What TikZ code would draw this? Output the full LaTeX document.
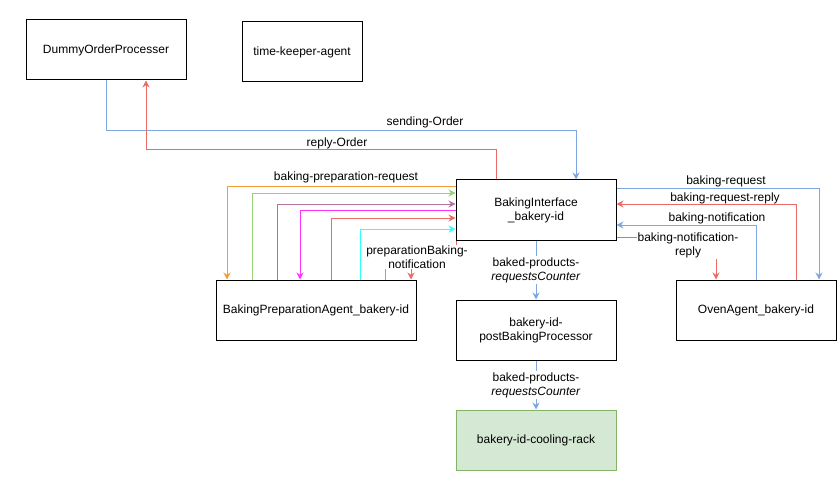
\documentclass[tikz,border=0pt]{standalone}
\usepackage{fontspec}
\setmainfont{Liberation Sans}
\usetikzlibrary{arrows.meta}

\definecolor{lineblue}{HTML}{7EA6E0}
\definecolor{linered}{HTML}{EA6B66}
\definecolor{lineorange}{HTML}{F19C38}
\definecolor{linegreen}{HTML}{97D077}
\definecolor{linepurple}{HTML}{B5739D}
\definecolor{linemagenta}{HTML}{FF33FF}
\definecolor{linecyan}{HTML}{33FFFF}
\definecolor{rackfill}{HTML}{D5E8D4}
\definecolor{rackdraw}{HTML}{82B366}

\begin{document}
\begin{tikzpicture}[x=1pt,y=-1pt,
  box/.style={draw=black, line width=1pt, minimum width=160pt, minimum height=60pt,
    inner sep=0pt, align=center, font=\fontsize{12}{14}\selectfont},
  lbl/.style={align=center, inner sep=1pt, text=black, font=\fontsize{12}{14}\selectfont},
  conn/.style={line width=1pt, -{Stealth[length=7pt,width=7pt]}},
  stub/.style={line width=1pt}]
\useasboundingbox (0,0) rectangle (837,481);

%agents
\node[box] (dop) at (106,50) {DummyOrderProcesser};
\node[box, minimum width=120pt] (tka) at (302,52) {time-keeper-agent};
\node[box] (bi) at (536,210) {BakingInterface\\\_bakery-id};
\node[box, minimum width=200pt] (bpa) at (316,310) {BakingPreparationAgent\_bakery-id};
\node[box] (oa) at (756,310) {OvenAgent\_bakery-id};
\node[box] (pbp) at (536,330) {bakery-id-\\postBakingProcessor};
\node[box, draw=rackdraw, fill=rackfill] (rack) at (536,440) {bakery-id-cooling-rack};

%orders
\draw[conn, lineblue] (dop.south) -- ++(0,50) -| ([xshift=40pt]bi.north);
\draw[conn, linered] ([xshift=-40pt]bi.north) -- ++(0,-30) -| ([xshift=40pt]dop.south);
\node[lbl] (lblsend) at (425,122) {sending-Order};
\node[lbl] (lblreply) at (337,143) {reply-Order};

%preparation agent
\draw[conn, lineorange] ([yshift=24pt]bi.west) -| ([xshift=-89pt]bpa.north);
\draw[conn, linegreen] ([xshift=-64pt]bpa.north) |- ([yshift=17pt]bi.west);
\draw[conn, linepurple] ([xshift=-39pt]bpa.north) |- ([yshift=6pt]bi.west);
\draw[conn, linemagenta] (bi.west) -| ([xshift=-16pt]bpa.north);
\draw[conn, linered] ([xshift=15pt]bpa.north) |- ([yshift=-8pt]bi.west);
\draw[conn, linecyan] ([xshift=44pt]bpa.north) |- ([yshift=-19pt]bi.west);
\node[lbl] (lblprepreq) at (346,177) {baking-preparation-request};
\draw[stub, lineblue] ([xshift=69pt]bpa.north) -- ++(0,-25) -| ([xshift=1pt]bi.south west);
\draw[conn, linered] ([xshift=1pt]bi.south west) -- ++(0,15) -| ([xshift=95pt]bpa.north);
\node[lbl, fill=white] (lblprepnot) at (417,257) {preparationBaking-\\notification};

%oven agent
\draw[conn, lineblue] ([yshift=22pt]bi.east) -| ([xshift=63pt]oa.north);
\draw[conn, linered] ([xshift=40pt]oa.north) |- ([yshift=6pt]bi.east);
\draw[conn, lineblue] (oa.north) |- ([yshift=-15pt]bi.east);
\draw[conn, linered] ([yshift=-27pt]bi.east) -| ([xshift=-40pt]oa.north);
\node[lbl] (lblbakreq) at (726,181) {baking-request};
\node[lbl] (lblbakrep) at (725,198) {baking-request-reply};
\node[lbl] (lblbaknot) at (717,218) {baking-notification};
\node[lbl, fill=white] (lblbaknotrep) at (688,245) {baking-notification-\\reply};

%baked products
\draw[conn, lineblue] (bi.south) -- node[lbl, fill=white] (lblbaked1) {baked-products-\\\textit{requestsCounter}} (pbp.north);
\draw[conn, lineblue] (pbp.south) -- node[lbl, fill=white] (lblbaked2) {baked-products-\\\textit{requestsCounter}} (rack.north);

\end{tikzpicture}
\end{document}
